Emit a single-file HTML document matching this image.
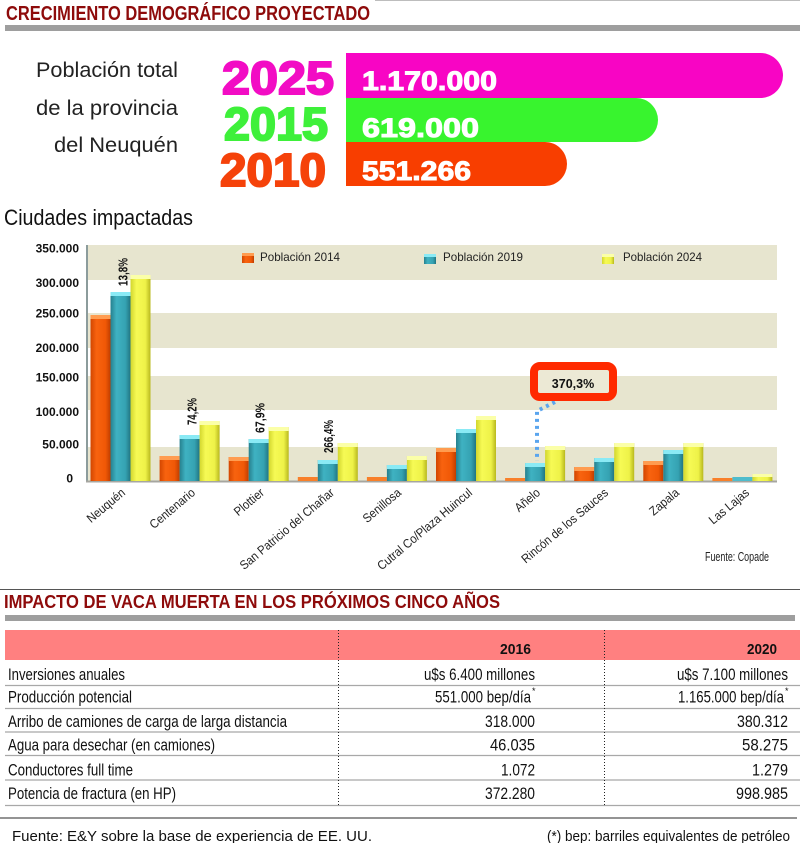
<!DOCTYPE html>
<html>
<head>
<meta charset="utf-8">
<style>
html,body{margin:0;padding:0;background:#fff;}
svg{display:block;}
text{font-family:"Liberation Sans",Arial,sans-serif;}
</style>
</head>
<body>
<svg width="800" height="843" viewBox="0 0 800 843" xmlns="http://www.w3.org/2000/svg">
<defs>
<linearGradient id="go" x1="0" x2="1" y1="0" y2="0">
<stop offset="0" stop-color="#d24600"/><stop offset="0.3" stop-color="#f8630f"/><stop offset="0.75" stop-color="#f05806"/><stop offset="1" stop-color="#c03e00"/>
</linearGradient>
<linearGradient id="gt" x1="0" x2="1" y1="0" y2="0">
<stop offset="0" stop-color="#26808e"/><stop offset="0.3" stop-color="#3fb2c2"/><stop offset="0.75" stop-color="#35a2b2"/><stop offset="1" stop-color="#217582"/>
</linearGradient>
<linearGradient id="gy" x1="0" x2="1" y1="0" y2="0">
<stop offset="0" stop-color="#d2d62e"/><stop offset="0.3" stop-color="#f6fa55"/><stop offset="0.75" stop-color="#eef248"/><stop offset="1" stop-color="#b8b81e"/>
</linearGradient>
</defs>

<!-- ===== TOP SECTION ===== -->
<line x1="375" y1="0.5" x2="800" y2="0.5" stroke="#bdbdbd" stroke-width="1"/>
<text x="6" y="20" font-size="20" font-weight="bold" fill="#8e0b0b" textLength="364" lengthAdjust="spacingAndGlyphs">CRECIMIENTO DEMOGRÁFICO PROYECTADO</text>
<rect x="5" y="25" width="795" height="6" fill="#9e9e9e"/>

<text x="178" y="77" font-size="21" fill="#222" text-anchor="end" textLength="142" lengthAdjust="spacingAndGlyphs">Población total</text>
<text x="178" y="115" font-size="21" fill="#222" text-anchor="end" textLength="142" lengthAdjust="spacingAndGlyphs">de la provincia</text>
<text x="178" y="152" font-size="21" fill="#222" text-anchor="end" textLength="124" lengthAdjust="spacingAndGlyphs">del Neuquén</text>

<text x="222" y="94" font-size="46" font-weight="bold" fill="#f20cc4" stroke="#f20cc4" stroke-width="2" textLength="112" lengthAdjust="spacingAndGlyphs">2025</text>
<text x="224" y="140" font-size="46" font-weight="bold" fill="#3ef03a" stroke="#3ef03a" stroke-width="2" textLength="104" lengthAdjust="spacingAndGlyphs">2015</text>
<text x="220" y="186" font-size="46" font-weight="bold" fill="#f5420a" stroke="#f5420a" stroke-width="2" textLength="106" lengthAdjust="spacingAndGlyphs">2010</text>

<path d="M346,53 H760.5 A22.5,22.5 0 0 1 760.5,98 H346 Z" fill="#f805c4"/>
<path d="M346,98 H636 A22,22 0 0 1 636,142 H346 Z" fill="#38f42e"/>
<path d="M346,142 H545 A22,22 0 0 1 545,186 H346 Z" fill="#f83e00"/>
<text x="362" y="90" font-size="27" font-weight="bold" fill="#fff" stroke="#fff" stroke-width="1" textLength="135" lengthAdjust="spacingAndGlyphs">1.170.000</text>
<text x="362" y="137" font-size="27" font-weight="bold" fill="#fff" stroke="#fff" stroke-width="1" textLength="117" lengthAdjust="spacingAndGlyphs">619.000</text>
<text x="362" y="180" font-size="27" font-weight="bold" fill="#fff" stroke="#fff" stroke-width="1" textLength="109" lengthAdjust="spacingAndGlyphs">551.266</text>

<!-- ===== CHART ===== -->
<text x="4" y="225" font-size="22" fill="#111" textLength="189" lengthAdjust="spacingAndGlyphs">Ciudades impactadas</text>

<rect x="88" y="245" width="689" height="35" fill="#e7e5cf"/>
<rect x="88" y="313" width="689" height="35" fill="#e7e5cf"/>
<rect x="88" y="376" width="689" height="34" fill="#e7e5cf"/>
<rect x="88" y="447" width="689" height="34" fill="#e7e5cf"/>

<line x1="87" y1="245" x2="87" y2="482" stroke="#8c9c9c" stroke-width="2"/>
<line x1="86" y1="481.5" x2="777" y2="481.5" stroke="#a6a6a0" stroke-width="2"/>

<g font-size="12" font-weight="bold" fill="#111" text-anchor="end">
<text x="79" y="252.5">350.000</text>
<text x="79" y="287">300.000</text>
<text x="79" y="317.5">250.000</text>
<text x="79" y="352">200.000</text>
<text x="79" y="381.5">150.000</text>
<text x="79" y="416">100.000</text>
<text x="79" y="448.5">50.000</text>
<text x="73" y="482.5">0</text>
</g>

<rect x="242" y="253" width="12" height="10" fill="url(#go)"/><rect x="242" y="253" width="12" height="3" fill="#ff9c50"/>
<text x="260" y="261" font-size="12" fill="#222" textLength="80" lengthAdjust="spacingAndGlyphs">Población 2014</text>
<rect x="424" y="254" width="12" height="10" fill="url(#gt)"/><rect x="424" y="254" width="12" height="3" fill="#8aeaf5"/>
<text x="443" y="261" font-size="12" fill="#222" textLength="80" lengthAdjust="spacingAndGlyphs">Población 2019</text>
<rect x="602" y="254" width="12" height="10" fill="url(#gy)"/><rect x="602" y="254" width="12" height="3" fill="#fbffa8"/>
<text x="623" y="261" font-size="12" fill="#222" textLength="79" lengthAdjust="spacingAndGlyphs">Población 2024</text>

<g>
<rect x="90.5" y="315" width="20" height="166" fill="url(#go)"/><rect x="90.5" y="315" width="20" height="4" fill="#ff9c50"/>
<rect x="110.5" y="292" width="20" height="189" fill="url(#gt)"/><rect x="110.5" y="292" width="20" height="4" fill="#8aeaf5"/>
<rect x="130.5" y="275" width="20" height="206" fill="url(#gy)"/><rect x="130.5" y="275" width="20" height="4" fill="#fbffa8"/>

<rect x="159.6" y="456" width="20" height="25" fill="url(#go)"/><rect x="159.6" y="456" width="20" height="4" fill="#ff9c50"/>
<rect x="179.6" y="435" width="20" height="46" fill="url(#gt)"/><rect x="179.6" y="435" width="20" height="4" fill="#8aeaf5"/>
<rect x="199.6" y="421" width="20" height="60" fill="url(#gy)"/><rect x="199.6" y="421" width="20" height="4" fill="#fbffa8"/>

<rect x="228.7" y="457" width="20" height="24" fill="url(#go)"/><rect x="228.7" y="457" width="20" height="4" fill="#ff9c50"/>
<rect x="248.7" y="439" width="20" height="42" fill="url(#gt)"/><rect x="248.7" y="439" width="20" height="4" fill="#8aeaf5"/>
<rect x="268.7" y="427" width="20" height="54" fill="url(#gy)"/><rect x="268.7" y="427" width="20" height="4" fill="#fbffa8"/>

<rect x="297.8" y="477" width="20" height="4" fill="#f8802a"/>
<rect x="317.8" y="460" width="20" height="21" fill="url(#gt)"/><rect x="317.8" y="460" width="20" height="4" fill="#8aeaf5"/>
<rect x="337.8" y="443" width="20" height="38" fill="url(#gy)"/><rect x="337.8" y="443" width="20" height="4" fill="#fbffa8"/>

<rect x="366.9" y="477" width="20" height="4" fill="#f8802a"/>
<rect x="386.9" y="465" width="20" height="16" fill="url(#gt)"/><rect x="386.9" y="465" width="20" height="4" fill="#8aeaf5"/>
<rect x="406.9" y="456" width="20" height="25" fill="url(#gy)"/><rect x="406.9" y="456" width="20" height="4" fill="#fbffa8"/>

<rect x="436" y="448" width="20" height="33" fill="url(#go)"/><rect x="436" y="448" width="20" height="4" fill="#ff9c50"/>
<rect x="456" y="429" width="20" height="52" fill="url(#gt)"/><rect x="456" y="429" width="20" height="4" fill="#8aeaf5"/>
<rect x="476" y="416" width="20" height="65" fill="url(#gy)"/><rect x="476" y="416" width="20" height="4" fill="#fbffa8"/>

<rect x="505.1" y="478" width="20" height="3" fill="#f8802a"/>
<rect x="525.1" y="463" width="20" height="18" fill="url(#gt)"/><rect x="525.1" y="463" width="20" height="4" fill="#8aeaf5"/>
<rect x="545.1" y="446" width="20" height="35" fill="url(#gy)"/><rect x="545.1" y="446" width="20" height="4" fill="#fbffa8"/>

<rect x="574.2" y="467" width="20" height="14" fill="url(#go)"/><rect x="574.2" y="467" width="20" height="4" fill="#ff9c50"/>
<rect x="594.2" y="458" width="20" height="23" fill="url(#gt)"/><rect x="594.2" y="458" width="20" height="4" fill="#8aeaf5"/>
<rect x="614.2" y="443" width="20" height="38" fill="url(#gy)"/><rect x="614.2" y="443" width="20" height="4" fill="#fbffa8"/>

<rect x="643.3" y="461" width="20" height="20" fill="url(#go)"/><rect x="643.3" y="461" width="20" height="4" fill="#ff9c50"/>
<rect x="663.3" y="450" width="20" height="31" fill="url(#gt)"/><rect x="663.3" y="450" width="20" height="4" fill="#8aeaf5"/>
<rect x="683.3" y="443" width="20" height="38" fill="url(#gy)"/><rect x="683.3" y="443" width="20" height="4" fill="#fbffa8"/>

<rect x="712.4" y="478" width="20" height="3" fill="#f8802a"/>
<rect x="732.4" y="477" width="20" height="4" fill="#4fbccc"/>
<rect x="752.4" y="474" width="20" height="7" fill="url(#gy)"/><rect x="752.4" y="474" width="20" height="3" fill="#fbffa8"/>
</g>

<g font-size="13" font-weight="bold" fill="#111">
<text transform="translate(127.5,286) rotate(-90)" textLength="28" lengthAdjust="spacingAndGlyphs">13,8%</text>
<text transform="translate(196.5,425) rotate(-90)" textLength="27" lengthAdjust="spacingAndGlyphs">74,2%</text>
<text transform="translate(264.5,433) rotate(-90)" textLength="30" lengthAdjust="spacingAndGlyphs">67,9%</text>
<text transform="translate(333,453) rotate(-90)" textLength="33" lengthAdjust="spacingAndGlyphs">266,4%</text>
</g>

<path d="M555,402 L537,411 L537,461" fill="none" stroke="#5aa5ee" stroke-width="4" stroke-dasharray="3,4"/>
<rect x="534" y="366" width="79" height="31" rx="6" ry="6" fill="#ece9d5" stroke="#ff2a00" stroke-width="8"/>
<text x="573" y="388" font-size="12.5" font-weight="bold" fill="#111" text-anchor="middle">370,3%</text>

<g font-size="12.5" fill="#222" text-anchor="end">
<text transform="translate(126,494) rotate(-40) scale(0.9,1)">Neuquén</text>
<text transform="translate(196,494) rotate(-40) scale(0.9,1)">Centenario</text>
<text transform="translate(265,494) rotate(-40) scale(0.9,1)">Plottier</text>
<text transform="translate(335,494) rotate(-40) scale(0.9,1)">San Patricio del Chañar</text>
<text transform="translate(402,494) rotate(-40) scale(0.9,1)">Senillosa</text>
<text transform="translate(473,494) rotate(-40) scale(0.9,1)">Cutral Co/Plaza Huincul</text>
<text transform="translate(541,494) rotate(-40) scale(0.9,1)">Añelo</text>
<text transform="translate(609,494) rotate(-40) scale(0.9,1)">Rincón de los Sauces</text>
<text transform="translate(680,494) rotate(-40) scale(0.9,1)">Zapala</text>
<text transform="translate(750,494) rotate(-40) scale(0.9,1)">Las Lajas</text>
</g>

<text x="705" y="561" font-size="13" fill="#222" textLength="64" lengthAdjust="spacingAndGlyphs">Fuente: Copade</text>

<!-- ===== SECOND SECTION ===== -->
<line x1="0" y1="589.5" x2="800" y2="589.5" stroke="#555" stroke-width="1"/>
<text x="4" y="608" font-size="18.5" font-weight="bold" fill="#8e0b0b" textLength="496" lengthAdjust="spacingAndGlyphs">IMPACTO DE VACA MUERTA EN LOS PRÓXIMOS CINCO AÑOS</text>
<rect x="5" y="615" width="790" height="6" fill="#9e9e9e"/>

<rect x="5" y="630" width="795" height="30" fill="#ff8080"/>
<text x="531" y="654" font-size="15" font-weight="bold" fill="#111" text-anchor="end" textLength="31" lengthAdjust="spacingAndGlyphs">2016</text>
<text x="777" y="654" font-size="15" font-weight="bold" fill="#111" text-anchor="end" textLength="30" lengthAdjust="spacingAndGlyphs">2020</text>

<g stroke="#a8a8a8" stroke-width="1.3">
<line x1="5" y1="685.5" x2="800" y2="685.5"/>
<line x1="5" y1="708.5" x2="800" y2="708.5"/>
<line x1="5" y1="732" x2="800" y2="732"/>
<line x1="5" y1="755.5" x2="800" y2="755.5"/>
<line x1="5" y1="780" x2="800" y2="780"/>
<line x1="5" y1="805.5" x2="800" y2="805.5"/>
</g>
<g stroke="#222" stroke-width="1" stroke-dasharray="1,2">
<line x1="338.5" y1="630" x2="338.5" y2="806"/>
<line x1="604.5" y1="630" x2="604.5" y2="806"/>
</g>

<g font-size="16.5" fill="#111">
<text x="8" y="680" textLength="117" lengthAdjust="spacingAndGlyphs">Inversiones anuales</text>
<text x="8" y="702.5" textLength="124" lengthAdjust="spacingAndGlyphs">Producción potencial</text>
<text x="8" y="727" textLength="279" lengthAdjust="spacingAndGlyphs">Arribo de camiones de carga de larga distancia</text>
<text x="8" y="750.5" textLength="207" lengthAdjust="spacingAndGlyphs">Agua para desechar (en camiones)</text>
<text x="8" y="775.5" textLength="125" lengthAdjust="spacingAndGlyphs">Conductores full time</text>
<text x="8" y="799" textLength="168" lengthAdjust="spacingAndGlyphs">Potencia de fractura (en HP)</text>
</g>
<g font-size="16.5" fill="#111" text-anchor="end">
<text x="535" y="680" textLength="111" lengthAdjust="spacingAndGlyphs">u$s 6.400 millones</text>
<text x="531" y="702.5" textLength="96" lengthAdjust="spacingAndGlyphs">551.000 bep/día</text>
<text x="535" y="727" textLength="50" lengthAdjust="spacingAndGlyphs">318.000</text>
<text x="535" y="750.5" textLength="45" lengthAdjust="spacingAndGlyphs">46.035</text>
<text x="535" y="775.5" textLength="34" lengthAdjust="spacingAndGlyphs">1.072</text>
<text x="535" y="799" textLength="50" lengthAdjust="spacingAndGlyphs">372.280</text>

<text x="788" y="680" textLength="111" lengthAdjust="spacingAndGlyphs">u$s 7.100 millones</text>
<text x="784" y="702.5" textLength="106" lengthAdjust="spacingAndGlyphs">1.165.000 bep/día</text>
<text x="788" y="727" textLength="51" lengthAdjust="spacingAndGlyphs">380.312</text>
<text x="788" y="750.5" textLength="46" lengthAdjust="spacingAndGlyphs">58.275</text>
<text x="788" y="775.5" textLength="36" lengthAdjust="spacingAndGlyphs">1.279</text>
<text x="788" y="799" textLength="52" lengthAdjust="spacingAndGlyphs">998.985</text>
</g>
<text x="532" y="694" font-size="9" fill="#111">*</text>
<text x="785" y="694" font-size="9" fill="#111">*</text>

<line x1="0" y1="818" x2="797" y2="818" stroke="#555" stroke-width="1.2"/>
<text x="12" y="841" font-size="15" fill="#111" textLength="360" lengthAdjust="spacingAndGlyphs">Fuente: E&amp;Y sobre la base de experiencia de EE. UU.</text>
<text x="790" y="841" font-size="15" fill="#111" text-anchor="end" textLength="243" lengthAdjust="spacingAndGlyphs">(*) bep: barriles equivalentes de petróleo</text>
</svg>
</body>
</html>
